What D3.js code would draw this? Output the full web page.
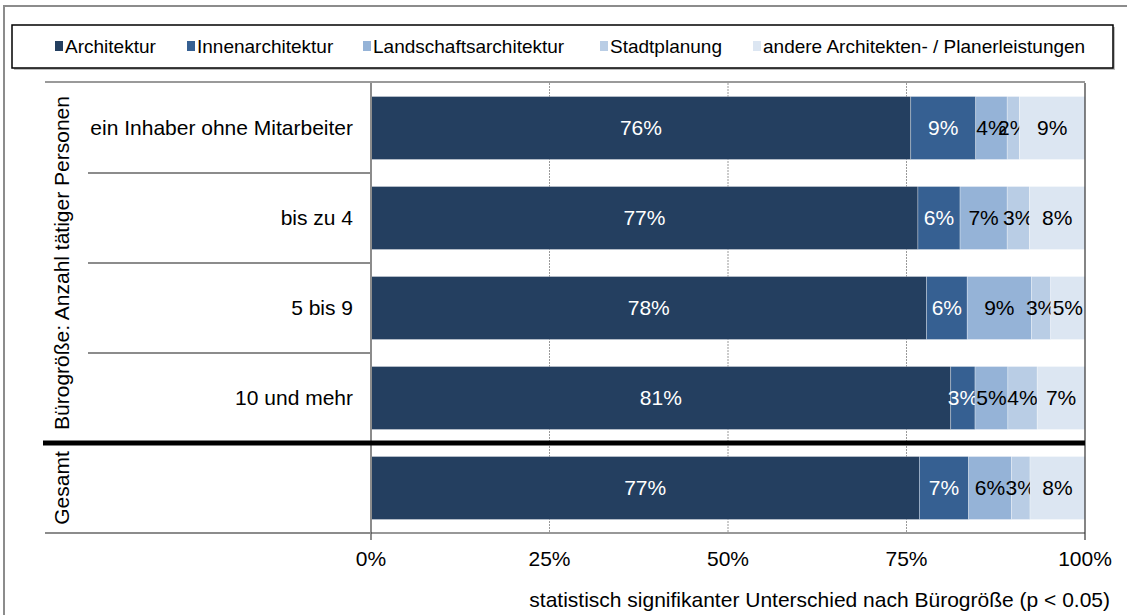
<!DOCTYPE html>
<html>
<head>
<meta charset="utf-8">
<script src="https://cdn.jsdelivr.net/npm/d3@7"></script>
<style>
  body { margin: 0; background: #fff; }
  text { font-family: "Liberation Sans", Arial, sans-serif; }
</style>
</head>
<body>
<svg id="chart" width="1127" height="615"></svg>
<script>
// ---------------- data
const rows = ["ein Inhaber ohne Mitarbeiter", "bis zu 4", "5 bis 9", "10 und mehr", "Gesamt"];
const rowLabels = ["ein Inhaber ohne Mitarbeiter", "bis zu 4", "5 bis 9", "10 und mehr", ""];
const series = ["Architektur", "Innenarchitektur", "Landschaftsarchitektur", "Stadtplanung", "andere Architekten- / Planerleistungen"];
const architektur = [0.756, 0.766, 0.778, 0.812, 0.768];
const innen       = [0.091, 0.059, 0.057, 0.034, 0.069];
const landschaft  = [0.044, 0.066, 0.090, 0.046, 0.060];
const stadt       = [0.017, 0.031, 0.027, 0.041, 0.026];
const andere      = [0.092, 0.078, 0.048, 0.067, 0.077];
const xTicks = [0, 0.25, 0.5, 0.75, 1];
const groupLabels = [
  { text: "Bürogröße: Anzahl tätiger Personen", from: 0, to: 3 },
  { text: "Gesamt", from: 4, to: 4 }
];
const xTitle = "statistisch signifikanter Unterschied nach Bürogröße (p < 0.05)";

const colors = ["#243F60", "#366092", "#95B3D7", "#B9CDE5", "#DCE6F2"];
const textColors = ["#fff", "#fff", "#000", "#000", "#000"];

const table = rows.map((r, i) => ({
  row: r,
  "Architektur": architektur[i],
  "Innenarchitektur": innen[i],
  "Landschaftsarchitektur": landschaft[i],
  "Stadtplanung": stadt[i],
  "andere Architekten- / Planerleistungen": andere[i]
}));

const svg = d3.select("#chart");
const fontsize = "21px";

// outer frame
svg.append("rect")
  .attr("x", 4).attr("y", 6).attr("width", 1200).attr("height", 700)
  .attr("fill", "none").attr("stroke", "#8c8c8c").attr("stroke-width", 2);

// ---------------- scales
const xScale = d3.scaleLinear().domain([0, 1]).range([371, 1085]);
const yScale = d3.scaleBand().domain(rows).range([83, 533]).paddingInner(0.3).paddingOuter(0.15);
const color = d3.scaleOrdinal().domain(series).range(colors);
const step = yScale.step();
const yTop = 83, yBottom = 533;

// gridlines
const grid = svg.append("g").attr("class", "grid");
grid.selectAll("line")
  .data(xTicks.slice(1, -1))
  .enter().append("line")
  .attr("x1", d => xScale(d)).attr("x2", d => xScale(d))
  .attr("y1", yTop).attr("y2", yBottom)
  .attr("stroke", "#9a9a9a").attr("stroke-width", 1)
  .attr("stroke-dasharray", "2,1");

// top border line of plot
svg.append("line")
  .attr("x1", 45).attr("x2", xScale(1)).attr("y1", yTop - 1).attr("y2", yTop - 1)
  .attr("stroke", "#9a9a9a").attr("stroke-width", 2);

// ---------------- bars
const stacked = d3.stack().keys(series)(table);

const layer = svg.append("g").selectAll("g.layer")
  .data(stacked)
  .enter().append("g")
  .attr("class", "layer")
  .attr("fill", d => color(d.key));

layer.selectAll("rect")
  .data(d => d)
  .enter().append("rect")
  .attr("x", d => xScale(d[0]))
  .attr("y", d => yScale(d.data.row))
  .attr("width", d => xScale(d[1]) - xScale(d[0]))
  .attr("height", yScale.bandwidth())
  .attr("stroke", "#fff").attr("stroke-width", 0.6).attr("stroke-opacity", 0.5);

layer.selectAll("text")
  .data((d, i) => d.map(v => ({ v: v, s: i })))
  .enter().append("text")
  .attr("x", d => (xScale(d.v[0]) + xScale(d.v[1])) / 2)
  .attr("y", d => yScale(d.v.data.row) + yScale.bandwidth() / 2)
  .attr("dy", "0.35em")
  .attr("text-anchor", "middle")
  .attr("fill", d => textColors[d.s])
  .style("font-size", fontsize)
  .text(d => Math.round((d.v[1] - d.v[0]) * 100) + "%");

// ---------------- category axis / frame
const frame = svg.append("g").attr("stroke", "#8c8c8c").attr("stroke-width", 2);
// 0% vertical
frame.append("line").attr("x1", xScale(0)).attr("x2", xScale(0)).attr("y1", yTop).attr("y2", yBottom + 7);
// separators between rows
frame.selectAll("line.sep")
  .data(rows.slice(1, 4))
  .enter().append("line")
  .attr("class", "sep")
  .attr("x1", 88).attr("x2", xScale(0))
  .attr("y1", d => Math.round(yScale(d) - step * yScale.paddingInner() / 2))
  .attr("y2", d => Math.round(yScale(d) - step * yScale.paddingInner() / 2));
// bottom line
frame.append("line").attr("x1", 45).attr("x2", xScale(0)).attr("y1", yBottom).attr("y2", yBottom);

// 100% line
svg.append("line")
  .attr("x1", xScale(1)).attr("x2", xScale(1)).attr("y1", yTop).attr("y2", yBottom + 7)
  .attr("stroke", "#333").attr("stroke-width", 1.2);
// bottom line across plot
svg.append("line")
  .attr("x1", xScale(0)).attr("x2", xScale(1)).attr("y1", yBottom).attr("y2", yBottom)
  .attr("stroke", "#333").attr("stroke-width", 1.2);

// thick separator Gesamt
const sepY = yScale("Gesamt") - step * yScale.paddingInner() / 2;
svg.append("line")
  .attr("x1", 43).attr("x2", xScale(1)).attr("y1", sepY).attr("y2", sepY)
  .attr("stroke", "#000").attr("stroke-width", 5);

// row labels
svg.append("g").selectAll("text")
  .data(rows)
  .enter().append("text")
  .attr("x", 353)
  .attr("y", d => yScale(d) + yScale.bandwidth() / 2)
  .attr("dy", "0.35em")
  .attr("text-anchor", "end")
  .style("font-size", fontsize)
  .attr("fill", "#000")
  .text((d, i) => rowLabels[i]);

// group labels (rotated)
svg.append("g").selectAll("text")
  .data(groupLabels)
  .enter().append("text")
  .attr("transform", d => {
    const y0 = yScale(rows[d.from]) - step * yScale.paddingInner() / 2;
    const y1 = yScale(rows[d.to]) + yScale.bandwidth() + step * yScale.paddingInner() / 2;
    return `translate(69,${(y0 + y1) / 2}) rotate(-90)`;
  })
  .attr("text-anchor", "middle")
  .style("font-size", fontsize)
  .text(d => d.text);

// ---------------- x axis labels
svg.append("g").selectAll("text")
  .data(xTicks)
  .enter().append("text")
  .attr("x", d => xScale(d))
  .attr("y", 566)
  .attr("text-anchor", "middle")
  .style("font-size", fontsize)
  .text(d3.format(".0%"));

svg.append("text")
  .attr("x", 1110).attr("y", 607)
  .attr("text-anchor", "end")
  .style("font-size", fontsize)
  .text(xTitle);

// ---------------- legend
const legendX = [55, 187, 363, 600, 753];
svg.append("rect")
  .attr("x", 14).attr("y", 27).attr("width", 1101).attr("height", 43)
  .attr("fill", "#bdbdbd");
svg.append("rect")
  .attr("x", 12).attr("y", 25).attr("width", 1101).attr("height", 43)
  .attr("fill", "#fff").attr("stroke", "#000").attr("stroke-width", 1.5);

const legend = svg.append("g").selectAll("g.legend")
  .data(series)
  .enter().append("g")
  .attr("class", "legend")
  .attr("transform", (d, i) => `translate(${legendX[i]},0)`);

legend.append("rect")
  .attr("x", 0).attr("y", 41).attr("width", 8).attr("height", 10)
  .attr("fill", d => color(d));

legend.append("text")
  .attr("x", 10).attr("y", 53)
  .style("font-size", "19px")
  .text(d => d);
</script>
</body>
</html>
